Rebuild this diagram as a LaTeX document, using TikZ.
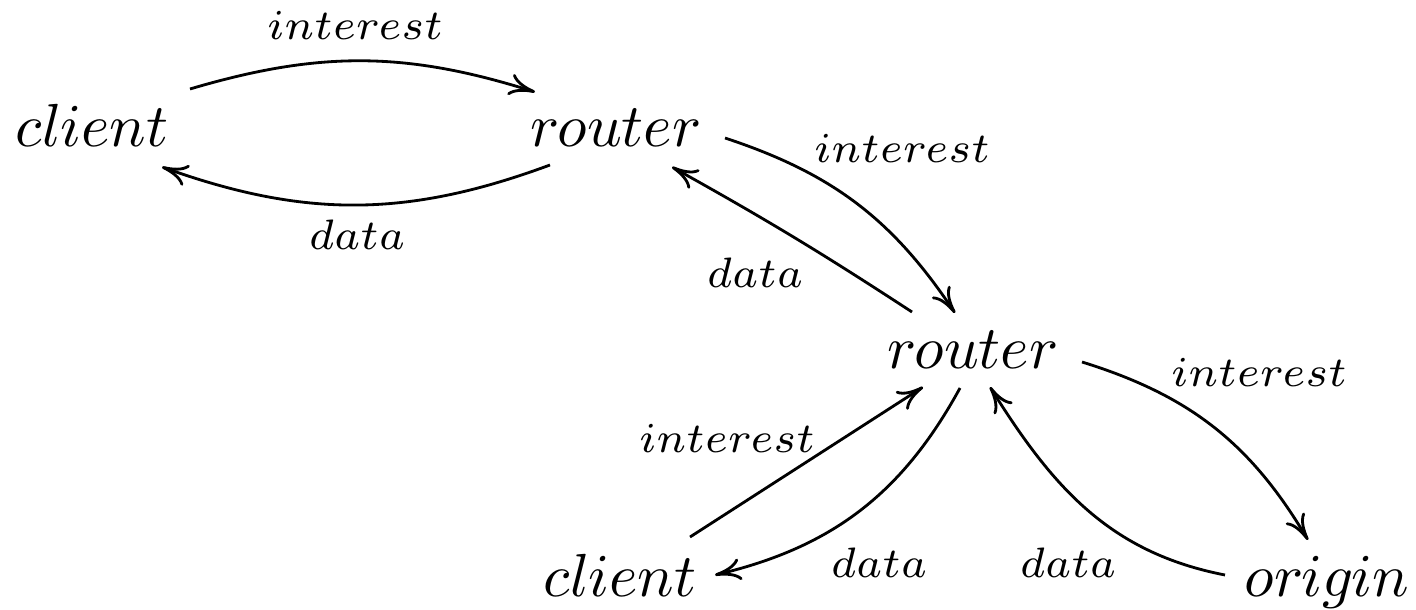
\documentclass[tikz,border=0pt]{standalone}
\usetikzlibrary{arrows.meta}
\font\nodefont=cmmi10 at 17.3pt
\font\labfont=cmmi7 at 12.1pt
\tikzset{
  nd/.style={inner sep=0pt, anchor=base, font=\nodefont},
  lab/.style={inner sep=0pt, anchor=base, font=\labfont},
  conn/.style={line width=0.8pt, -{To[length=2.6mm,width=2.2mm]}}
}
\begin{document}
\begin{tikzpicture}[x=0.01cm,y=0.01cm]
\useasboundingbox (0,0) rectangle (1416,609);
\node[nd] (c1) at (92,462) {client};
\node[nd] (r1) at (615,462) {router};
\node[nd] (r2) at (972,241) {router};
\node[nd] (c2) at (620,13) {client};
\node[nd] (o) at (1327,13) {origin};

\node[lab] (l1) at (355,569) {interest};
\node[lab] (l2) at (357,359) {data};
\node[lab] (l3) at (902,446) {interest};
\node[lab] (l4) at (755,321) {data};
\node[lab] (l5) at (1259,222) {interest};
\node[lab] (l6) at (1068,32) {data};
\node[lab] (l7) at (727,157) {interest};
\node[lab] (l8) at (879,32) {data};

\draw[conn] ([shift={(98,58)}]c1.base) to[bend left=17] ([shift={(-80,55)}]r1.base);
\draw[conn] ([shift={(-65,-18)}]r1.base) to[bend left=20] ([shift={(70,-20)}]c1.base);
\draw[conn] ([shift={(110,9)}]r1.base) to[bend left=19] ([shift={(-17,55)}]r2.base);
\draw[conn] ([shift={(-60,56)}]r2.base) to[bend right=2] ([shift={(57,-20)}]r1.base);
\draw[conn] ([shift={(110,6)}]r2.base) to[bend left=21] ([shift={(-19,56)}]o.base);
\draw[conn] ([shift={(-102,21)}]o.base) to[out=169,in=-58] ([shift={(18,-19)}]r2.base);
\draw[conn] ([shift={(70,59)}]c2.base) -- ([shift={(-49,-19)}]r2.base);
\draw[conn] ([shift={(-12,-20)}]r2.base) to[bend left=24] ([shift={(95,21)}]c2.base);
\end{tikzpicture}
\end{document}
